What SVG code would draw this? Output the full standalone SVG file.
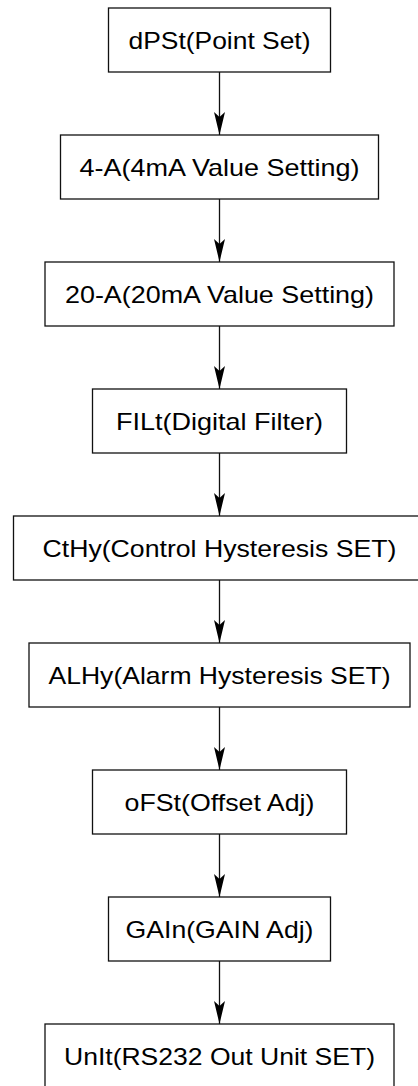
<svg xmlns="http://www.w3.org/2000/svg" width="418" height="1086" viewBox="0 0 418 1086">
<style>
.box{fill:#fff;stroke:#111;stroke-width:1.3}
.lbl{font-family:"Liberation Sans",Arial,sans-serif;font-size:24px;fill:#000;text-anchor:middle}
.conn{stroke:#111;stroke-width:1.3;fill:none}
</style>
<defs>
<marker id="ah" markerUnits="userSpaceOnUse" markerWidth="23" markerHeight="11" refX="23" refY="5.5" orient="auto" viewBox="0 0 23 11">
<path d="M0,0 L23,5.5 L0,11 L5,5.5 Z" fill="#000"/>
</marker>
</defs>
<rect width="418" height="1086" fill="#fff"/>
<g id="connectors">
<line class="conn" x1="219.5" y1="72" x2="219.5" y2="135" marker-end="url(#ah)"/>
<line class="conn" x1="219.5" y1="199" x2="219.5" y2="262" marker-end="url(#ah)"/>
<line class="conn" x1="219.5" y1="326" x2="219.5" y2="389" marker-end="url(#ah)"/>
<line class="conn" x1="219.5" y1="453" x2="219.5" y2="516" marker-end="url(#ah)"/>
<line class="conn" x1="219.5" y1="580" x2="219.5" y2="643" marker-end="url(#ah)"/>
<line class="conn" x1="219.5" y1="707" x2="219.5" y2="770" marker-end="url(#ah)"/>
<line class="conn" x1="219.5" y1="834" x2="219.5" y2="897" marker-end="url(#ah)"/>
<line class="conn" x1="219.5" y1="961" x2="219.5" y2="1024" marker-end="url(#ah)"/>
</g>
<g id="n1"><rect class="box" x="108.5" y="8" width="222" height="64"/><text class="lbl" x="219.5" y="48.5" textLength="182" lengthAdjust="spacingAndGlyphs">dPSt(Point Set)</text></g>
<g id="n2"><rect class="box" x="60.5" y="135" width="318" height="64"/><text class="lbl" x="219.5" y="175.5" textLength="280" lengthAdjust="spacingAndGlyphs">4-A(4mA Value Setting)</text></g>
<g id="n3"><rect class="box" x="45" y="262" width="349" height="64"/><text class="lbl" x="219.5" y="302.5" textLength="309" lengthAdjust="spacingAndGlyphs">20-A(20mA Value Setting)</text></g>
<g id="n4"><rect class="box" x="92.5" y="389" width="254" height="64"/><text class="lbl" x="219.5" y="429.5" textLength="207" lengthAdjust="spacingAndGlyphs">FILt(Digital Filter)</text></g>
<g id="n5"><rect class="box" x="13.5" y="516" width="412" height="64"/><text class="lbl" x="219.5" y="556.5" textLength="354" lengthAdjust="spacingAndGlyphs">CtHy(Control Hysteresis SET)</text></g>
<g id="n6"><rect class="box" x="29" y="643" width="381" height="64"/><text class="lbl" x="219.5" y="683.5" textLength="342" lengthAdjust="spacingAndGlyphs">ALHy(Alarm Hysteresis SET)</text></g>
<g id="n7"><rect class="box" x="92.5" y="770" width="254" height="64"/><text class="lbl" x="219.5" y="810.5" textLength="190" lengthAdjust="spacingAndGlyphs">oFSt(Offset Adj)</text></g>
<g id="n8"><rect class="box" x="108.5" y="897" width="222" height="64"/><text class="lbl" x="219.5" y="937.5" textLength="188" lengthAdjust="spacingAndGlyphs">GAIn(GAIN Adj)</text></g>
<g id="n9"><rect class="box" x="45" y="1024" width="349" height="64"/><text class="lbl" x="219.5" y="1064.5" textLength="311" lengthAdjust="spacingAndGlyphs">UnIt(RS232 Out Unit SET)</text></g>
</svg>
